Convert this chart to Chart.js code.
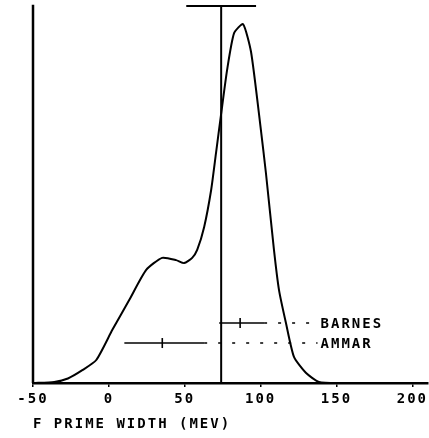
<!DOCTYPE html>
<html><head><meta charset="utf-8">
<script src="https://cdn.jsdelivr.net/npm/chart.js@4/dist/chart.umd.min.js"></script>
<style>html,body{margin:0;padding:0;background:#fff}#wrap{width:429px;height:438px}</style>
</head><body><div id="wrap"><canvas id="c" width="429" height="438"></canvas></div>
<script>
// Distribution curve (F prime width, MeV) vs relative probability
const curveX = [-50, -36, -27, -17.5, -8.3, 2.3, 13.4, 24.6, 35.1, 44.3, 49.6, 54.9, 58.2, 62.8, 67.4, 70.6, 73.9, 77.9, 82.5, 88.4, 93.7, 100.2, 103.5, 108.8, 112.1, 116.7, 122.0, 129.8, 138.4, 151.5, 210];
const curveY = [0, 0.3, 1.2, 3.4, 6.1, 14.1, 22.0, 30.0, 33.2, 32.6, 31.8, 33.2, 35.3, 41.4, 51.2, 61.0, 71.1, 83.0, 92.8, 95.2, 87.8, 67.1, 55.7, 35.3, 24.7, 15.9, 6.9, 2.7, 0.3, 0, 0];
const xTicks = [-50, 0, 50, 100, 150, 200];
// Measurements (horizontal error bars)
const seriesNames = ['BARNES', 'AMMAR'];
const seriesCenter = [86.5, 35.2];
const seriesLow = [72.7, 10.2];
const seriesHigh = [102.3, 62.8];
const seriesLevel = [15.9, 10.6];
const leaderEnd = 137.5;
// Reference value with its range
const markerValue = 74;
const markerLow = 51;
const markerHigh = 97;
const axisTitle = 'F PRIME WIDTH (MEV)';

const FONT = "'DejaVu Sans Mono'";
const datasets = [];
datasets.push({data: curveX.map((x, i) => ({x, y: curveY[i]})), borderColor: '#000', borderWidth: 2, pointRadius: 0, tension: 0.2, clip: false});
datasets.push({data: [{x: -50, y: 0}, {x: -50, y: 100.3}], borderColor: '#000', borderWidth: 2.5, pointRadius: 0, clip: false});
datasets.push({data: [{x: markerValue, y: 0}, {x: markerValue, y: 100}], borderColor: '#000', borderWidth: 2, pointRadius: 0, clip: false});
datasets.push({data: [{x: markerLow, y: 100}, {x: markerHigh, y: 100}], borderColor: '#000', borderWidth: 2, pointRadius: 0, clip: false});
seriesNames.forEach((n, i) => {
  datasets.push({data: [{x: seriesLow[i], y: seriesLevel[i]}, {x: seriesCenter[i], y: seriesLevel[i]}, {x: seriesHigh[i], y: seriesLevel[i]}],
    borderColor: '#000', borderWidth: 1.6, pointRadius: [0, 5, 0], pointStyle: 'line', rotation: 90, pointBorderWidth: 1.6, pointBorderColor: '#000', clip: false});
  datasets.push({data: [{x: seriesHigh[i], y: seriesLevel[i]}, {x: leaderEnd, y: seriesLevel[i]}],
    borderColor: '#000', borderWidth: 1.6, borderDash: [3, 11], pointRadius: 0, clip: false});
});

const spacing = {
  id: 'spacing',
  beforeDraw(chart) { chart.ctx.letterSpacing = '2px'; }
};
const labels = {
  id: 'labels',
  afterDatasetsDraw(chart) {
    const ctx = chart.ctx, xs = chart.scales.x, ys = chart.scales.y;
    ctx.save();
    ctx.letterSpacing = '2px';
    ctx.font = 'bold 14px ' + FONT;
    ctx.fillStyle = '#000';
    ctx.textBaseline = 'middle';
    ctx.textAlign = 'left';
    seriesNames.forEach((n, i) => {
      ctx.fillText(n, xs.getPixelForValue(leaderEnd) + 3, ys.getPixelForValue(seriesLevel[i]) + 1);
    });
    ctx.restore();
  }
};

new Chart(document.getElementById('c'), {
  type: 'line',
  data: {datasets},
  plugins: [spacing, labels],
  options: {
    responsive: false, animation: false, devicePixelRatio: 1,
    layout: {padding: {left: 33, top: 6, right: 0, bottom: 0}},
    plugins: {legend: {display: false}, tooltip: {enabled: false}},
    scales: {
      x: {
        type: 'linear', min: -50, max: 210,
        afterBuildTicks: s => { s.ticks = xTicks.map(v => ({value: v})); },
        afterFit: s => { s.height = 55; },
        border: {display: true, color: '#000', width: 2.5},
        grid: {display: true, drawOnChartArea: false, drawTicks: true, tickLength: 4, color: '#000', lineWidth: 1.5},
        ticks: {color: '#000', font: {family: FONT, size: 14, weight: 'bold'}, padding: 4, maxRotation: 0, autoSkip: false},
        title: {display: true, text: axisTitle, align: 'start', color: '#000', font: {family: FONT, size: 14, weight: 'bold'}, padding: {top: 4, bottom: 5}}
      },
      y: {type: 'linear', min: 0, max: 100, display: false}
    }
  }
});
</script>
</body></html>
